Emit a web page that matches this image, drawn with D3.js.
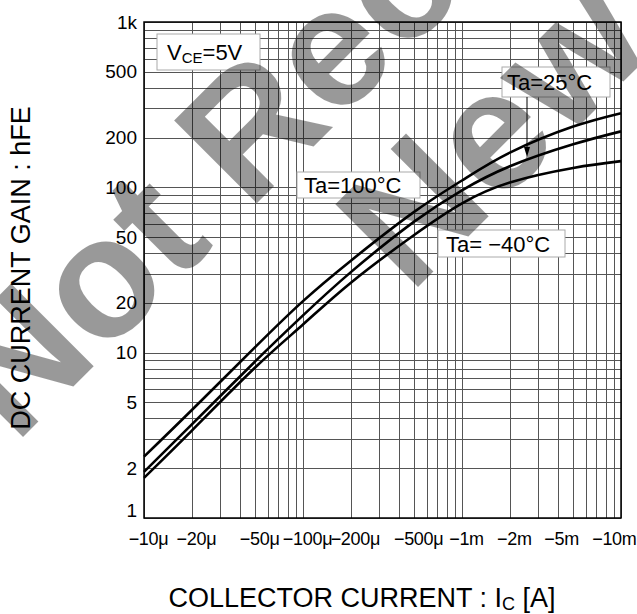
<!DOCTYPE html>
<html>
<head>
<meta charset="utf-8">
<script src="https://cdn.jsdelivr.net/npm/d3@7"></script>
<style>
  body { margin: 0; background: #fff; }
  text { font-family: "Liberation Sans", Arial, sans-serif; }
</style>
</head>
<body>
<div id="chart"></div>
<script>
// collector current [A] (plotted as magnitude, labelled negative)
const current = [10e-6, 20e-6, 50e-6, 100e-6, 200e-6, 500e-6, 1e-3, 2e-3, 5e-3, 10e-3];
// hFE
const hfe100 = [2.35, 4.5, 10.8, 20.5, 36, 71, 110, 162, 233, 281];
const hfe25 = [1.9, 3.68, 8.85, 16.8, 30.7, 62, 96, 134, 182, 218];
const hfeM40 = [1.75, 3.38, 8.13, 14.8, 26.5, 51.5, 80, 107, 131, 144];

const xTickValues = [10e-6, 20e-6, 50e-6, 100e-6, 200e-6, 500e-6, 1e-3, 2e-3, 5e-3, 10e-3];
const xTickLabels = ["−10μ", "−20μ", "−50μ", "−100μ", "−200μ", "−500μ", "−1m", "−2m", "−5m", "−10m"];
const yTickValues = [1, 2, 5, 10, 20, 50, 100, 200, 500, 1000];
const yTickLabels = ["1", "2", "5", "10", "20", "50", "100", "200", "500", "1k"];

const W = 637, H = 614;
const margin = { top: 22, right: 16, bottom: 96, left: 144 };
const width = W - margin.left - margin.right;
const height = H - margin.top - margin.bottom;

const root = d3.select("#chart").append("svg")
  .attr("width", W)
  .attr("height", H);

const svg = root.append("g")
  .attr("transform", `translate(${margin.left}, ${margin.top})`);

const xScale = d3.scaleLog().domain([1e-5, 1e-2]).range([0, width]);
const yScale = d3.scaleLog().domain([1, 1000]).range([height, 0]);

// grid
svg.append("g")
  .selectAll("line")
  .data(xScale.ticks())
  .join("line")
  .attr("x1", (d) => Math.round(xScale(d)) + 0.5)
  .attr("x2", (d) => Math.round(xScale(d)) + 0.5)
  .attr("y1", 0)
  .attr("y2", height)
  .attr("stroke", "#555")
  .attr("stroke-width", 1);

svg.append("g")
  .selectAll("line")
  .data(yScale.ticks())
  .join("line")
  .attr("y1", (d) => Math.round(yScale(d)) + 0.5)
  .attr("y2", (d) => Math.round(yScale(d)) + 0.5)
  .attr("x1", 0)
  .attr("x2", width)
  .attr("stroke", "#555")
  .attr("stroke-width", 1);

// label boxes (drawn over grid)
function box(x, y, w, h) {
  svg.append("rect")
    .attr("x", x).attr("y", y).attr("width", w).attr("height", h)
    .attr("fill", "#fff").attr("stroke", "#aaa").attr("stroke-width", 1);
}
box(13, 12, 103, 36);
box(358, 45, 108, 30);
box(153, 150, 123, 26);
box(294, 208, 127, 27);

// curves
const line = d3.line()
  .x((d) => xScale(d[0]))
  .y((d) => yScale(d[1]))
  .curve(d3.curveNatural);

[hfe100, hfe25, hfeM40].forEach((s) => {
  svg.append("path")
    .datum(current.map((c, i) => [c, s[i]]))
    .attr("fill", "none")
    .attr("stroke", "#000")
    .attr("stroke-width", 2.6)
    .attr("d", line);
});

// border
svg.append("rect")
  .attr("width", width).attr("height", height)
  .attr("fill", "none").attr("stroke", "#000").attr("stroke-width", 1.5);

// annotation text
const vce = svg.append("text").attr("x", 23).attr("y", 38).attr("font-size", 22);
vce.append("tspan").text("V");
vce.append("tspan").attr("font-size", 15).attr("dy", 3).text("CE");
vce.append("tspan").attr("dy", -3).text("=5V");

svg.append("text").attr("x", 363).attr("y", 68).attr("font-size", 22).text("Ta=25°C");
svg.append("text").attr("x", 160).attr("y", 171).attr("font-size", 22).text("Ta=100°C");
svg.append("text").attr("x", 302).attr("y", 230).attr("font-size", 22).text("Ta= −40°C");

// arrow to the 25°C curve
svg.append("line")
  .attr("x1", 383).attr("x2", 383).attr("y1", 75).attr("y2", 126)
  .attr("stroke", "#000").attr("stroke-width", 1);
svg.append("path")
  .attr("d", "M380,125 L386,125 L383,135 Z")
  .attr("fill", "#000");

// axes
const xAxis = svg.append("g")
  .attr("transform", `translate(0, ${height})`)
  .call(d3.axisBottom(xScale)
    .tickValues(xTickValues)
    .tickFormat((d, i) => xTickLabels[i])
    .tickSize(0)
    .tickPadding(14));
xAxis.select(".domain").remove();
xAxis.selectAll("text")
  .attr("font-size", 18)
  .attr("letter-spacing", -0.3)
  .attr("font-family", "Liberation Sans, Arial, sans-serif")
  .attr("fill", "#000")
  .attr("dx", (d, i) => (i === xTickLabels.length - 2 ? -12 : i === xTickLabels.length - 1 ? 15 : 4))
  .attr("text-anchor", (d, i) => (i === xTickLabels.length - 1 ? "end" : "middle"));

const yAxis = svg.append("g")
  .call(d3.axisLeft(yScale)
    .tickValues(yTickValues)
    .tickFormat((d, i) => yTickLabels[i])
    .tickSize(0)
    .tickPadding(7));
yAxis.select(".domain").remove();
yAxis.selectAll("text")
  .attr("font-size", 19)
  .attr("font-family", "Liberation Sans, Arial, sans-serif")
  .attr("fill", "#000");
yAxis.selectAll(".tick:first-of-type text").attr("dy", "-0.1em");

// axis titles
root.append("text")
  .attr("transform", "translate(30, 268) rotate(-90)")
  .attr("text-anchor", "middle")
  .attr("font-size", 27)
  .text("DC CURRENT GAIN : hFE");

const xt = root.append("text")
  .attr("x", 362).attr("y", 607)
  .attr("text-anchor", "middle")
  .attr("font-size", 27);
xt.append("tspan").text("COLLECTOR CURRENT : I");
xt.append("tspan").attr("font-size", 18).attr("dy", 3).text("C");
xt.append("tspan").attr("dy", -3).text(" [A]");

// watermark
const wm = root.append("g")
  .attr("fill", "#000")
  .attr("fill-opacity", 0.4)
  .attr("font-weight", "bold")
  .attr("font-size", 170);
wm.append("text")
  .attr("transform", "translate(15, 445) rotate(-45)")
  .text("Not Recommended");
wm.append("text")
  .attr("transform", "translate(410, 295) rotate(-45)")
  .text("New Design");
</script>
</body>
</html>
